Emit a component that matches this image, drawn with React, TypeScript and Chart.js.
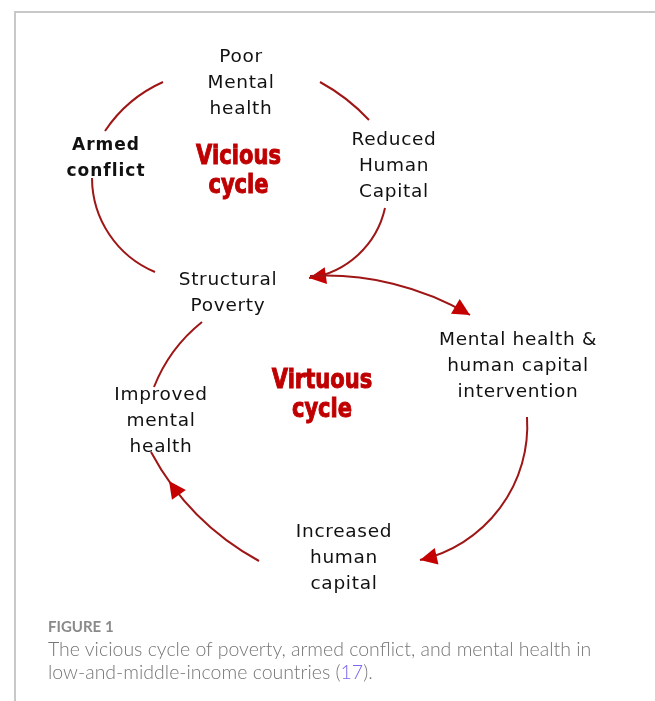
import React, { useEffect, useRef } from "react";
import { Chart, registerables } from "chart.js";

Chart.register(...registerables);

// ---- Diagram data (in chart units: x 0..655, y 0..701 from top) ----
const nodeLines: string[][] = [
  ["Poor", "Mental", "health"],
  ["Armed", "conflict"],
  ["Reduced", "Human", "Capital"],
  ["Structural", "Poverty"],
  ["Mental health &", "human capital", "intervention"],
  ["Improved", "mental", "health"],
  ["Increased", "human", "capital"],
];
const nodeX = [241, 106, 394, 228, 518, 161, 344];
const nodeY = [62, 149.5, 145, 285, 345, 400, 537];
const nodeBold = [false, true, false, false, false, false, false];

const cycleLines: string[][] = [
  ["Vicious", "cycle"],
  ["Virtuous", "cycle"],
];
const cycleX = [238.5, 322];
const cycleY = [164, 388];

const arcStartX = [163, 92, 320, 385, 310, 527, 259, 202];
const arcStartY = [82, 178, 82, 208, 276, 417, 561, 322];
const arcViaX = [131, 109, 346, 360, 390, 508, 206, 174];
const arcViaY = [102, 234, 99, 253, 283, 496, 523, 351];
const arcEndX = [105, 155, 369, 309, 470, 420, 151, 154];
const arcEndY = [131, 272, 120, 278, 315, 560, 452, 387];
const arcArrowAt: (number | null)[] = [null, null, null, 1, 1, 1, 0.78, null];

const captionTitle = "FIGURE 1";
const captionLine1 = "The vicious cycle of poverty, armed conflict, and mental health in";
const captionLine2a = "low-and-middle-income countries (";
const captionRef = "17";
const captionLine2b = ").";

function circleFrom(ax: number, ay: number, bx: number, by: number, cx: number, cy: number) {
  const d = 2 * (ax * (by - cy) + bx * (cy - ay) + cx * (ay - by));
  const a2 = ax * ax + ay * ay;
  const b2 = bx * bx + by * by;
  const c2 = cx * cx + cy * cy;
  const ux = (a2 * (by - cy) + b2 * (cy - ay) + c2 * (ay - by)) / d;
  const uy = (a2 * (cx - bx) + b2 * (ax - cx) + c2 * (bx - ax)) / d;
  return { x: ux, y: uy, r: Math.hypot(ax - ux, ay - uy) };
}

const TWO_PI = Math.PI * 2;
const norm = (a: number) => ((a % TWO_PI) + TWO_PI) % TWO_PI;

const diagramPlugin = {
  id: "cycleDiagram",
  afterDatasetsDraw(chart: any) {
    const ctx: CanvasRenderingContext2D = chart.ctx;
    const xs = chart.scales.x;
    const ys = chart.scales.y;
    const px = (v: number) => xs.getPixelForValue(v);
    const py = (v: number) => ys.getPixelForValue(v);

    // arcs
    for (let i = 0; i < arcStartX.length; i++) {
      const ax = px(arcStartX[i]), ay = py(arcStartY[i]);
      const bx = px(arcViaX[i]), by = py(arcViaY[i]);
      const cx = px(arcEndX[i]), cy = py(arcEndY[i]);
      const c = circleFrom(ax, ay, bx, by, cx, cy);
      const a1 = Math.atan2(ay - c.y, ax - c.x);
      const a2 = Math.atan2(by - c.y, bx - c.x);
      const a3 = Math.atan2(cy - c.y, cx - c.x);
      const d13 = norm(a3 - a1);
      const d12 = norm(a2 - a1);
      const cw = d12 < d13; // increasing angle
      const sweep = cw ? d13 : TWO_PI - d13;
      ctx.save();
      ctx.strokeStyle = "#9e1616";
      ctx.lineWidth = 2;
      ctx.beginPath();
      ctx.arc(c.x, c.y, c.r, a1, a3, !cw);
      ctx.stroke();
      const at = arcArrowAt[i];
      if (at !== null) {
        const th = a1 + (cw ? 1 : -1) * sweep * at;
        const tx = c.x + c.r * Math.cos(th);
        const ty = c.y + c.r * Math.sin(th);
        const dx = cw ? -Math.sin(th) : Math.sin(th);
        const dy = cw ? Math.cos(th) : -Math.cos(th);
        const len = 17;
        const hw = 8.5;
        const bmx = tx - dx * len, bmy = ty - dy * len;
        ctx.fillStyle = "#c40000";
        ctx.beginPath();
        ctx.moveTo(tx, ty);
        ctx.lineTo(bmx - dy * hw, bmy + dx * hw);
        ctx.lineTo(bmx + dy * hw, bmy - dx * hw);
        ctx.closePath();
        ctx.fill();
      }
      ctx.restore();
    }

    // node labels
    for (let i = 0; i < nodeLines.length; i++) {
      ctx.save();
      ctx.textAlign = "center";
      ctx.textBaseline = "alphabetic";
      ctx.fillStyle = "#111111";
      if (nodeBold[i]) {
        ctx.font = 'bold 17px "DejaVu Sans", sans-serif';
        (ctx as any).letterSpacing = "1px";
      } else {
        ctx.font = '18.5px "DejaVu Sans", sans-serif';
        (ctx as any).letterSpacing = "0.7px";
      }
      nodeLines[i].forEach((line, k) => {
        ctx.fillText(line, px(nodeX[i]), py(nodeY[i] + k * 26));
      });
      ctx.restore();
    }

    // cycle titles (condensed heavy red)
    for (let i = 0; i < cycleLines.length; i++) {
      cycleLines[i].forEach((line, k) => {
        ctx.save();
        ctx.translate(px(cycleX[i]), py(cycleY[i] + k * 28.5));
        ctx.scale(0.81, 1);
        ctx.textAlign = "center";
        ctx.textBaseline = "alphabetic";
        ctx.font = 'bold 26px "DejaVu Sans", sans-serif';
        ctx.fillStyle = "#c00000";
        ctx.strokeStyle = "#c00000";
        ctx.lineWidth = 1;
        ctx.fillText(line, 0, 0);
        ctx.strokeText(line, 0, 0);
        ctx.restore();
      });
    }
  },
};

export default function App() {
  const canvasRef = useRef<HTMLCanvasElement | null>(null);

  useEffect(() => {
    const canvas = canvasRef.current;
    if (!canvas) return;
    const chart = new Chart(canvas, {
      type: "scatter",
      data: {
        datasets: [
          {
            label: "nodes",
            data: nodeX.map((x, i) => ({ x, y: nodeY[i] })),
            pointRadius: 0,
            pointHoverRadius: 0,
          },
        ],
      },
      options: {
        animation: false,
        responsive: false,
        maintainAspectRatio: false,
        devicePixelRatio: 1,
        layout: { padding: 0 },
        events: [],
        scales: {
          x: { type: "linear", min: 0, max: 655, display: false },
          y: { type: "linear", min: 0, max: 701, reverse: true, display: false },
        },
        plugins: {
          legend: { display: false },
          tooltip: { enabled: false },
        },
      },
      plugins: [diagramPlugin],
    });
    return () => chart.destroy();
  }, []);

  return (
    <div
      style={{
        position: "fixed",
        left: 0,
        top: 0,
        width: 655,
        height: 701,
        background: "#ffffff",
        overflow: "hidden",
      }}
    >
      <div
        style={{
          position: "absolute",
          left: 14,
          top: 11,
          right: 0,
          bottom: 0,
          borderTop: "2px solid #c8c8c8",
          borderLeft: "2px solid #c8c8c8",
        }}
      />
      <canvas
        ref={canvasRef}
        width={655}
        height={701}
        style={{ position: "absolute", left: 0, top: 0, width: 655, height: 701 }}
      />
      <div
        style={{
          position: "absolute",
          left: 48,
          top: 619,
          fontFamily: "Lato, sans-serif",
          fontWeight: 700,
          fontSize: 15,
          lineHeight: "15px",
          color: "#8a8a8a",
          whiteSpace: "nowrap",
        }}
      >
        {captionTitle}
      </div>
      <div
        style={{
          position: "absolute",
          left: 48,
          top: 637,
          fontFamily: "Lato, sans-serif",
          fontWeight: 300,
          fontSize: 19.5,
          lineHeight: "23px",
          color: "#767676",
          whiteSpace: "nowrap",
        }}
      >
        {captionLine1}
        <br />
        {captionLine2a}
        <span style={{ color: "#7a68ee" }}>{captionRef}</span>
        {captionLine2b}
      </div>
    </div>
  );
}
